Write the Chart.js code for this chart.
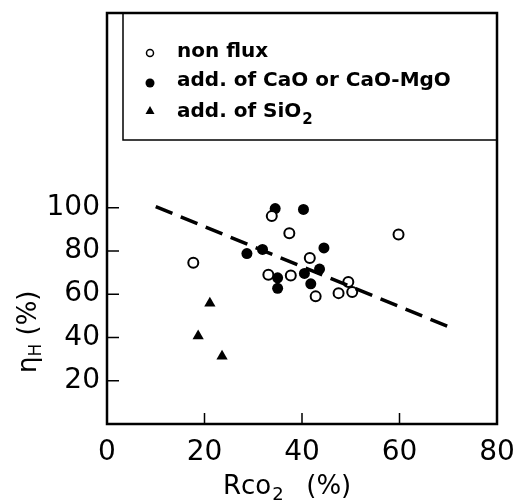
<!DOCTYPE html>
<html>
<head>
<meta charset="utf-8">
<script src="https://cdn.jsdelivr.net/npm/chart.js"></script>
<style>
  body { margin: 0; background: #fff; }
  #wrap { width: 515px; height: 502px; }
</style>
</head>
<body>
<div id="wrap"><canvas id="scatterChart"></canvas></div>
<script>
// Rco2 (%) / eta_H (%)
const nonFluxX = [17.7, 33.8, 37.4, 59.8, 41.6, 33.1, 37.7, 49.5, 47.5, 50.3, 42.8];
const nonFluxY = [74.5, 96.1, 88.2, 87.6, 76.7, 69.0, 68.7, 65.6, 60.5, 61.0, 59.0];
const caoX = [34.5, 40.3, 44.5, 28.7, 31.9, 43.6, 40.5, 35.0, 41.8, 35.0];
const caoY = [99.6, 99.2, 81.4, 78.8, 80.7, 71.6, 69.6, 67.6, 64.8, 62.7];
const sio2X = [21.1, 18.7, 23.6];
const sio2Y = [55.8, 40.7, 31.3];
const trendX = [10, 70];
const trendY = [100.5, 45];

const xTicks = [0, 20, 40, 60, 80];
const yTicks = [20, 40, 60, 80, 100];
const legendLabels = ['non flux', 'add. of CaO or CaO-MgO', 'add. of SiO'];

function pts(xs, ys) {
    return xs.map((x, i) => ({ x: x, y: ys[i] }));
}

const FONT = '"DejaVu Sans", sans-serif';

// frame, inward ticks, legend box, axis titles
const decor = {
    id: 'decor',
    afterDraw(chart) {
        const ctx = chart.ctx;
        const a = chart.chartArea;
        const xs = chart.scales.x, ys = chart.scales.y;
        ctx.save();
        ctx.strokeStyle = '#000';
        ctx.fillStyle = '#000';
        ctx.lineWidth = 2.5;
        ctx.strokeRect(a.left, a.top, a.right - a.left, a.bottom - a.top);

        ctx.lineWidth = 1.5;
        ctx.beginPath();
        xTicks.slice(1, -1).forEach(v => {
            const px = xs.getPixelForValue(v);
            ctx.moveTo(px, a.bottom);
            ctx.lineTo(px, a.bottom - 11);
        });
        yTicks.forEach(v => {
            const py = ys.getPixelForValue(v);
            ctx.moveTo(a.left, py);
            ctx.lineTo(a.left + 12, py);
        });
        ctx.stroke();

        // legend box
        const lx = 123, ly = a.top, lw = a.right - 123, lh = 140 - a.top;
        ctx.lineWidth = 1.5;
        ctx.strokeRect(lx, ly, lw, lh);

        ctx.lineWidth = 1.5;
        ctx.beginPath();
        ctx.arc(150, 53, 3.5, 0, Math.PI * 2);
        ctx.stroke();
        ctx.beginPath();
        ctx.arc(150, 83, 4.5, 0, Math.PI * 2);
        ctx.fill();
        ctx.beginPath();
        ctx.moveTo(150, 106);
        ctx.lineTo(154.5, 114);
        ctx.lineTo(145.5, 114);
        ctx.closePath();
        ctx.fill();

        ctx.font = 'bold 20px ' + FONT;
        ctx.textBaseline = 'alphabetic';
        ctx.textAlign = 'left';
        ctx.fillText(legendLabels[0], 177, 57);
        ctx.fillText(legendLabels[1], 177, 86);
        ctx.fillText(legendLabels[2], 177, 117);
        let w = ctx.measureText(legendLabels[2]).width;
        ctx.font = 'bold 15px ' + FONT;
        ctx.fillText('2', 177 + w + 1, 124);

        // x title
        ctx.font = '26px ' + FONT;
        let tx = 223, ty = 494;
        ctx.fillText('Rco', tx, ty);
        tx += ctx.measureText('Rco').width + 1;
        ctx.font = '18px ' + FONT;
        ctx.fillText('2', tx, ty + 6);
        tx += ctx.measureText('2').width + 6;
        ctx.font = '26px ' + FONT;
        ctx.fillText('  (%)', tx, ty);

        // y title (rotated)
        ctx.translate(36, 373);
        ctx.rotate(-Math.PI / 2);
        ctx.font = '26px ' + FONT;
        let ux = 0;
        ctx.fillText('η', ux, 0);
        ux += ctx.measureText('η').width;
        ctx.font = '17px ' + FONT;
        ctx.fillText('H', ux, 5);
        ux += ctx.measureText('H').width;
        ctx.font = '26px ' + FONT;
        ctx.fillText(' (%)', ux, 0);
        ctx.restore();
    }
};

document.addEventListener('DOMContentLoaded', function () {
    const ctx = document.getElementById('scatterChart').getContext('2d');
    new Chart(ctx, {
        type: 'scatter',
        data: {
            datasets: [
                {
                    type: 'line',
                    label: 'trend',
                    data: pts(trendX, trendY),
                    borderColor: '#000',
                    borderWidth: 3.5,
                    borderDash: [18, 9],
                    pointRadius: 0,
                    fill: false
                },
                {
                    label: legendLabels[0],
                    data: pts(nonFluxX, nonFluxY),
                    pointStyle: 'circle',
                    pointRadius: 5,
                    borderWidth: 2,
                    borderColor: '#000',
                    backgroundColor: '#fff'
                },
                {
                    label: legendLabels[1],
                    data: pts(caoX, caoY),
                    pointStyle: 'circle',
                    pointRadius: 5.5,
                    borderWidth: 0,
                    borderColor: '#000',
                    backgroundColor: '#000'
                },
                {
                    label: 'add. of SiO2',
                    data: pts(sio2X, sio2Y),
                    pointStyle: 'triangle',
                    pointRadius: 6.5,
                    borderWidth: 0,
                    borderColor: '#000',
                    backgroundColor: '#000'
                }
            ]
        },
        options: {
            responsive: true,
            maintainAspectRatio: false,
            animation: false,
            layout: { padding: { top: 13, right: 18, left: 0, bottom: 0 } },
            plugins: {
                legend: { display: false },
                tooltip: { enabled: false }
            },
            scales: {
                x: {
                    type: 'linear',
                    min: 0,
                    max: 80,
                    afterBuildTicks: s => { s.ticks = xTicks.map(v => ({ value: v })); },
                    afterFit: s => {
                        s.height = 78;
                        s.paddingLeft = 0;
                        s.paddingRight = 0;
                    },
                    grid: { display: false, drawTicks: false },
                    border: { display: false },
                    ticks: {
                        color: '#000',
                        padding: 12,
                        font: { family: FONT, size: 28 }
                    }
                },
                y: {
                    type: 'linear',
                    min: 0,
                    max: 190,
                    afterBuildTicks: s => { s.ticks = yTicks.map(v => ({ value: v })); },
                    afterFit: s => {
                        s.width = 107;
                        s.paddingTop = 0;
                        s.paddingBottom = 0;
                    },
                    grid: { display: false, drawTicks: false },
                    border: { display: false },
                    ticks: {
                        color: '#000',
                        padding: 7,
                        font: { family: FONT, size: 28 }
                    }
                }
            }
        },
        plugins: [decor]
    });
});
</script>
</body>
</html>
